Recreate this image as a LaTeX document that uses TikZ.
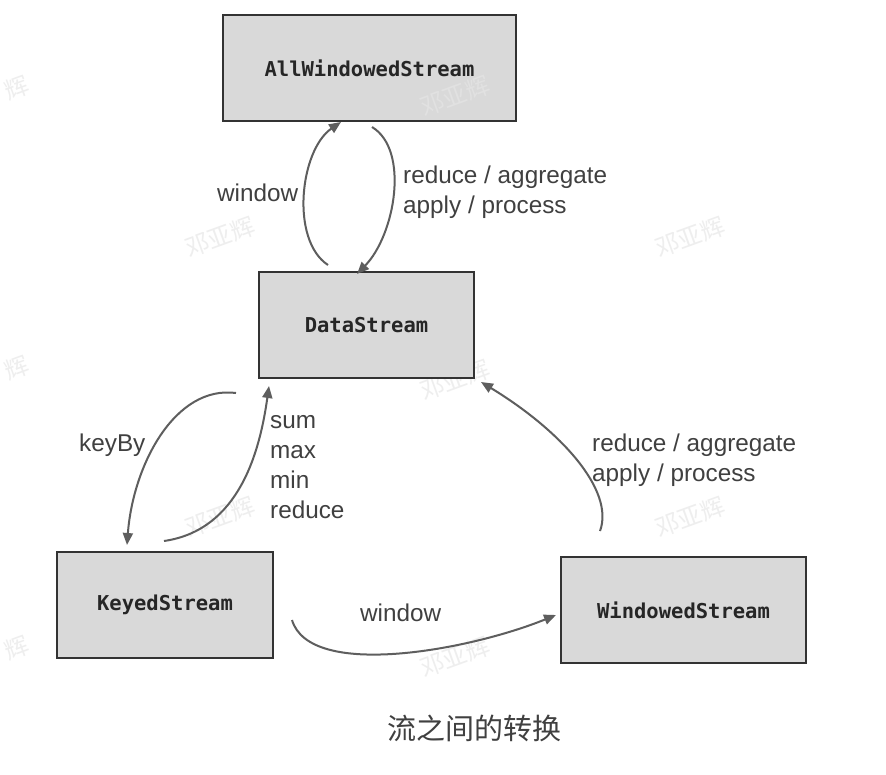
\documentclass[tikz,border=0pt]{standalone}
\usepackage{fontspec}
\setmainfont{Liberation Sans}
\newfontfamily\boxmono{DejaVu Sans Mono}
\newfontfamily\cjk{Noto Sans CJK SC}
\usetikzlibrary{arrows.meta}
\definecolor{boxfill}{HTML}{D9D9D9}
\definecolor{boxline}{HTML}{333333}
\definecolor{arrowc}{HTML}{5E5E5E}
\definecolor{txt}{HTML}{404040}
\definecolor{wm}{HTML}{EEEEEE}
\begin{document}
\begin{tikzpicture}[x=1pt,y=-1pt,
  streambox/.style={draw=boxline,line width=2pt,fill=boxfill,inner sep=0pt,
    font=\boxmono\bfseries\fontsize{20.5}{24}\selectfont,text=black!85},
  flow/.style={draw=arrowc,line width=2pt,-{Triangle[length=12pt,width=10pt]}},
  lbl/.style={text=txt,font=\fontsize{24.3}{30}\selectfont,inner sep=0pt,align=left},
  wmark/.style={text=wm,font=\cjk\fontsize{24}{24}\selectfont,rotate=20,inner sep=0pt}]
\useasboundingbox[fill=white] (0,0) rectangle (886,774);
% watermarks
\foreach \x/\y in {220/237,690/237,455/380,220/517,690/517,455/657}
  \node[wmark] at (\x,\y) {邓亚辉};
\foreach \y in {88,368,648}
  \node[wmark] at (17,\y) {辉};
% boxes
\node[streambox,minimum width=293pt,minimum height=106pt] (aws) at (369.5,68) {AllWindowedStream};
\node[streambox,minimum width=215pt,minimum height=106pt] (ds) at (366.5,325) {DataStream};
\node[streambox,minimum width=216pt,minimum height=106pt] (ks) at (165,605) {KeyedStream};
\node[streambox,minimum width=245pt,minimum height=106pt] (ws) at (683.5,610) {WindowedStream};
\node[wmark,text=boxfill!80!white] at (455,96) {邓亚辉};
% connector end points
\coordinate (a1) at (328,265); \coordinate (a2) at (341,122);
\coordinate (b1) at (372,127); \coordinate (b2) at (357,274);
\coordinate (c1) at (236,393); \coordinate (c2) at (127,545);
\coordinate (d1) at (164,541); \coordinate (d2) at (269,386);
\coordinate (e1) at (292,620); \coordinate (e2) at (556,615);
\coordinate (f1) at (600,531); \coordinate (f2) at (481,382);
% connectors
\draw[flow] (a1) .. controls (290,240) and (300,150) .. (a2);
\draw[flow] (b1) .. controls (410,150) and (395,235) .. (b2);
\draw[flow] (c1) .. controls (175,385) and (133,465) .. (c2);
\draw[flow] (d1) .. controls (240,530) and (260,450) .. (d2);
\draw[flow] (e1) .. controls (310,680) and (470,650) .. (e2);
\draw[flow] (f1) .. controls (615,490) and (560,430) .. (f2);
% labels
\node[lbl,anchor=west] (l1) at (217,193) {window};
\node[lbl,anchor=west] (l2) at (403,192) {reduce / aggregate\\apply / process};
\node[lbl,anchor=west] (l3) at (79,445) {keyBy};
\node[lbl,anchor=north west] (l4) at (270,415) {sum\\max\\min\\reduce};
\node[lbl,anchor=west] (l5) at (360,613) {window};
\node[lbl,anchor=west] (l6) at (592,460) {reduce / aggregate\\apply / process};
\node[text=txt,font=\cjk\fontsize{29}{32}\selectfont,inner sep=0pt] (cap) at (474,728) {流之间的转换};
\end{tikzpicture}
\end{document}
